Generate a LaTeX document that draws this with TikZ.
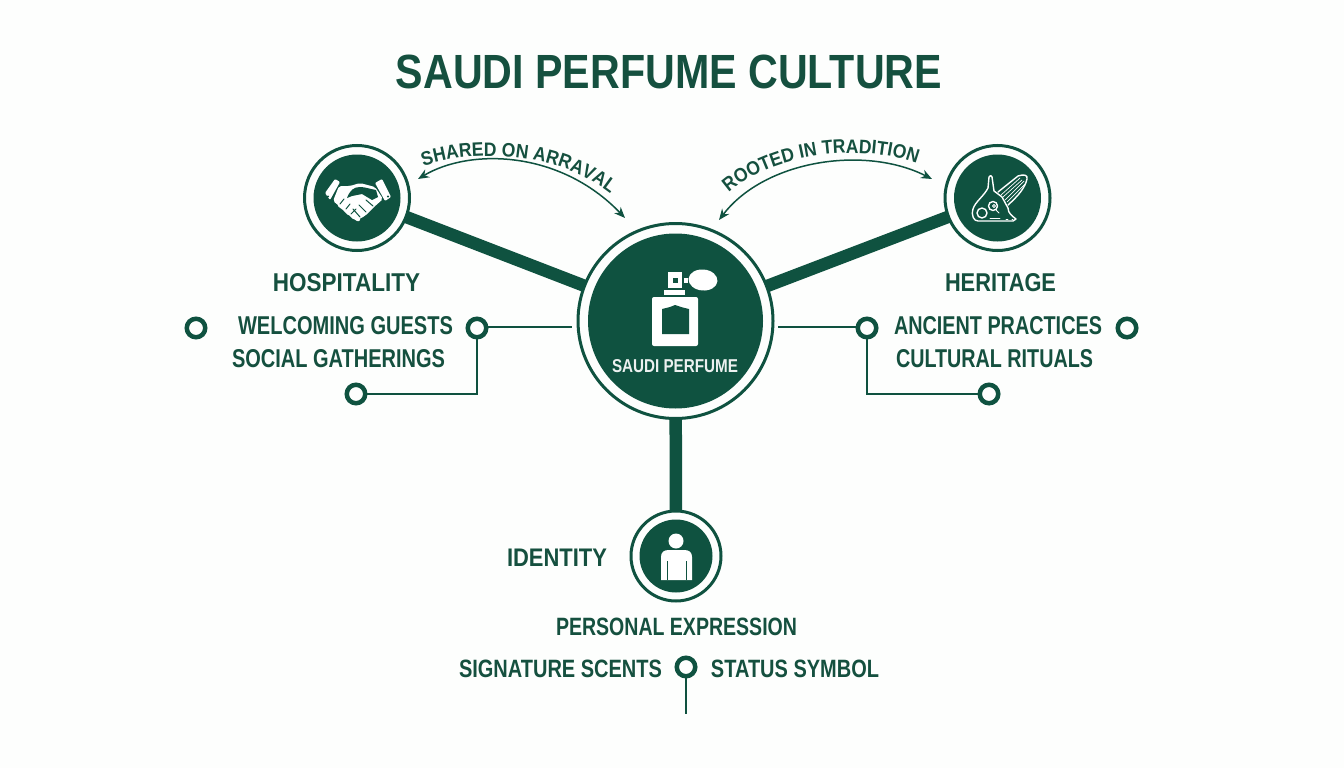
\documentclass[tikz,border=0pt]{standalone}
\usepackage{fontspec}
\setmainfont{Liberation Sans}
\newfontfamily\arcfont[FakeStretch=0.9]{Liberation Sans}
\usetikzlibrary{arrows.meta,decorations.text,backgrounds}
\definecolor{pine}{HTML}{0F5240}
\definecolor{pinetext}{HTML}{15503F}
\definecolor{paper}{HTML}{FDFEFD}
\newcommand{\fitlabel}[3]{\resizebox{#1pt}{#2pt}{\bfseries #3}}
\tikzset{
  x=1pt,y=-1pt,
  ringc/.style={circle,draw=pine,line width=3pt,fill=paper,inner sep=0pt,outer sep=0pt},
  discc/.style={circle,fill=pine,inner sep=0pt,outer sep=0pt},
  dotc/.style={circle,draw=pine,line width=4.5pt,fill=paper,inner sep=0pt,outer sep=0pt,minimum size=18.5pt},
  lab/.style={inner sep=0pt,outer sep=0pt,text=pinetext},
  bar/.style={draw=pine,line width=12.5pt},
  thin/.style={draw=pine,line width=1.3pt},
  arc/.style={draw=pine,line width=1.5pt,{Stealth[length=11pt,width=9pt]}-{Stealth[length=11pt,width=9pt]}},
  icon/.style={draw=white,line width=1.4pt,line join=round,line cap=round},
  curved/.style={decorate,decoration={text along path,text align=center,
     text={|\arcfont\bfseries\fontsize{19.5}{19.5}\selectfont\color{pinetext}|#1}}}
}
\begin{document}
\begin{tikzpicture}
\useasboundingbox (0,0) rectangle (1344,768);
\begin{scope}[on background layer]
\fill[paper] (0,0) rectangle (1344,768);
\end{scope}

% hubs
\node[ringc,minimum size=195pt] (main) at (675.5,321) {};
\node[discc,minimum size=175pt] (maindisc) at (main.center) {};
\node[ringc,minimum size=105pt] (hosp) at (357,198) {};
\node[discc,minimum size=87pt] (hospdisc) at (hosp.center) {};
\node[ringc,minimum size=105pt] (heri) at (997.5,198) {};
\node[discc,minimum size=87pt] (heridisc) at (heri.center) {};
\node[ringc,minimum size=90pt] (iden) at (676,556) {};
\node[discc,minimum size=73pt] (idendisc) at (iden.center) {};

\begin{scope}[on background layer]
\draw[bar] (hosp.center) -- (main.center);
\draw[bar] (heri.center) -- (main.center);
\draw[bar] (main.center) -- (iden.center);
\end{scope}

% title and labels
\node[lab] (title) at (669,72) {\fitlabel{546}{33.5}{SAUDI PERFUME CULTURE}};
\node[lab] (hosplab) at (346.5,283) {\fitlabel{147}{18}{HOSPITALITY}};
\node[lab] (herilab) at (1000.5,283) {\fitlabel{111}{18}{HERITAGE}};
\node[lab] (idenlab) at (557,557.5) {\fitlabel{100}{17.5}{IDENTITY}};
\node[lab] (welc) at (345.5,326) {\fitlabel{215}{18}{WELCOMING GUESTS}};
\node[lab] (soci) at (338.5,358.5) {\fitlabel{213}{18}{SOCIAL GATHERINGS}};
\node[lab] (anci) at (998,326) {\fitlabel{208}{18}{ANCIENT PRACTICES}};
\node[lab] (cult) at (994.5,358.5) {\fitlabel{197}{18}{CULTURAL RITUALS}};
\node[lab] (pers) at (676.5,626.5) {\fitlabel{241}{17.5}{PERSONAL EXPRESSION}};
\node[lab] (sign) at (560.5,668.5) {\fitlabel{203}{17.5}{SIGNATURE SCENTS}};
\node[lab] (stat) at (795,668.5) {\fitlabel{168}{17.5}{STATUS SYMBOL}};
\node[lab,text=white!92!pine] (mainlab) at (675,366) {\fitlabel{126}{13}{SAUDI PERFUME}};

% thin connectors
\node[dotc] (d1) at (196,328) {};
\node[dotc] (d2) at (477,328) {};
\node[dotc] (d3) at (356,394) {};
\node[dotc] (d4) at (867,328) {};
\node[dotc] (d5) at (1127,328) {};
\node[dotc] (d6) at (989,394) {};
\node[dotc] (d7) at (686,667) {};
\coordinate (e2) at (572,327);
\coordinate (e4) at (778,327);
\coordinate (e7) at (686,714);
\draw[thin] (d2.east |- e2) -- (e2);
\draw[thin] (d2.south) |- (d3.east);
\draw[thin] (e4) -- (d4.west |- e4);
\draw[thin] (d4.south) |- (d6.west);
\draw[thin] (d7.south) -- (e7);

% curved arrows
\coordinate (a1) at (418,179);
\coordinate (a2) at (625,218);
\coordinate (b1) at (719,220);
\coordinate (b2) at (932,179);
\draw[arc] (a1) .. controls (470,148) and (560,150) .. (a2);
\draw[arc] (b1) .. controls (765,160) and (865,145) .. (b2);
\path[curved={SHARED ON ARRAVAL}] (424,166) .. controls (470,150) and (555,150) .. (610,193);
\path[curved={ROOTED IN TRADITION}] (724,197) .. controls (765,155) and (860,140) .. (923,166);

% perfume icon
\fill[white,rounded corners=2pt] (652,297) rectangle (698,346);
\fill[pine] (662,334) -- (662,309) -- (670,307) -- (675,305) -- (681,307) -- (689,309) -- (689,334) -- cycle;
\fill[white] (664,289.5) rectangle (685,294.5);
\fill[white] (668,272) rectangle (682,288);
\fill[pine] (672.5,277.5) rectangle (677.5,283);
\fill[white] (683.5,278) rectangle (688,282.5);
\fill[white,rotate around={-5:(703,280)}] (703,280) ellipse [x radius=14.5,y radius=10.5];

% person icon
\fill[white] (676,541) circle [radius=7.5];
\fill[white] (661,580) -- (661,557) .. controls (661,552) and (664,550) .. (669,550) -- (684,550) .. controls (689,550) and (692,552) .. (692,557) -- (692,580) -- cycle;
\draw[pine,line width=0.8pt] (667,561) -- (667,580) (686,561) -- (686,580);

% handshake icon
\fill[white,rounded corners=1pt] (325,193) -- (335,179) -- (340,182) -- (330,200) -- cycle;
\fill[white,rounded corners=1pt] (375,183) -- (382,179) -- (391,197) -- (385,201) -- cycle;
\fill[pine] (328,196.5) circle [radius=1.2] (388,196.5) circle [radius=1.2];
\fill[white,rounded corners=2pt] (339,186) -- (350,186) -- (360,183) -- (375,187) -- (383,199) -- (374,207) -- (365,216) -- (357,220) -- (343,209) -- (333,201) -- cycle;
\draw[white,line width=4.5pt,line cap=round] (340,205) -- (344,208) (345,209) -- (349,213) (350,213) -- (354,217) (355,217) -- (358,219);
\fill[pine] (347,198) .. controls (350,190) and (354,187) .. (360,187) .. controls (365,187) and (370,189) .. (376,190) -- (378,197) -- (372,200) -- (362,194) -- (352,196) -- cycle;
\draw[pine,line width=1pt,line cap=round] (373,206) -- (366,200) (366,212) -- (359,205) (360,217) -- (353,209) (340,204) -- (344,199) (346,209) -- (350,204) (351,214) -- (356,209);

% heritage icon
\draw[icon] (989,177) -- (988,188) .. controls (984,196) and (975,202) .. (973,209) .. controls (971,216) and (974,221) .. (978,221) -- (1013,221) -- (1016,219) .. controls (1012,216) and (1008,213) .. (1008,208) -- (1002,197) -- (994,191) -- (992,177) .. controls (992,175) and (989,175) .. (989,177) -- cycle;
\draw[icon] (998,192) -- (1018,176) .. controls (1024,174) and (1028,175) .. (1027,179) .. controls (1025,188) and (1018,196) .. (1008,205);
\draw[icon,line width=0.7pt] (1001,195) -- (1020,178) (1003,197) -- (1022,180) (1005,200) -- (1024,181) (1007,202) -- (1025,184);
\draw[icon] (982,213) circle [radius=5];
\draw[icon] (993,206) circle [radius=4.5];
\draw[icon,line width=0.8pt] (994,206) circle [radius=1.5] (996,210) -- (999,213);
\draw[icon,line width=0.9pt] (990,218) -- (1000,218) (1006,219) -- (1008,219) (1012,219) -- (1013,219);
\end{tikzpicture}
\end{document}
